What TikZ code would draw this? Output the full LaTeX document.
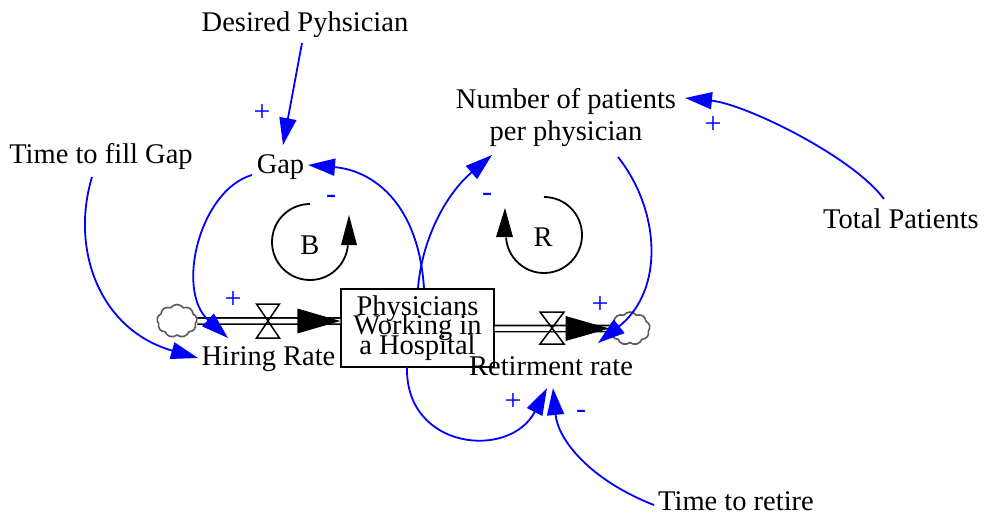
\documentclass[tikz,border=0pt]{standalone}
\usepackage{fontspec}
\setmainfont{Liberation Serif}
\usetikzlibrary{arrows.meta,shapes.symbols}
\newcommand\mytightlines{\lineskiplimit=-50pt\relax}
\begin{document}
\begin{tikzpicture}[x=1pt,y=-1pt,
  lbl/.style={font=\fontsize{28.5}{30}\selectfont, inner sep=2pt, anchor=base},
  pol/.style={font=\fontsize{30}{30}\selectfont, text=blue, inner sep=0pt},
  link/.style={draw=blue, line width=1.8pt, -{Triangle[length=27pt,width=17pt]}},
  pipe/.style={double, double distance=4.5pt, line width=1.6pt},
  valve/.style={draw, line width=1.5pt, line join=miter},
  stock/.style={draw, line width=1.3pt, minimum width=153pt, minimum height=78pt, align=center, inner sep=0pt,
    font=\fontsize{28.5}{19.5}\selectfont\mytightlines},
  cloudy/.style={cloud, cloud puffs=9, cloud puff arc=110, draw=gray!70!black, line width=1.6pt,
    minimum width=40pt, minimum height=33pt, inner sep=0pt, aspect=1.2},
  loopline/.style={line width=1.8pt},
]
\useasboundingbox (0,0) rectangle (986,517);

% variables
\node[lbl] (desired) at (305,31) {Desired Pyhsician};
\node[lbl] (gap) at (280.5,173) {Gap};
\node[lbl] (fill) at (101,163) {Time to fill Gap};
\node[font=\fontsize{28.5}{32}\selectfont, align=center, inner sep=2pt] (npp) at (566,117.5) {Number of patients\\per physician};
\node[lbl] (total) at (901,228) {Total Patients};

% stock and flows
\node[stock] (phys) at (417.5,328) {Physicians\\Working in\\a Hospital};
\node[cloudy] (cL) at (177,321) {};
\node[cloudy] (cR) at (630,328.5) {};

\draw[pipe] (cL.east) -- ([yshift=7pt]phys.west);
\fill ([yshift=7pt]phys.west) -- ++(-43,-12.5) -- ++(0,25) -- cycle;
\draw[valve] (256.5,304) -- (279.5,304) -- (256.5,338) -- (279.5,338) -- cycle;

\draw[pipe] ([yshift=-0.5pt]phys.east) -- (cR.west);
\fill (cR.west) -- ++(-44,-12.5) -- ++(0,25) -- cycle;
\draw[valve] (540,312) -- (564,312) -- (540,344) -- (564,344) -- cycle;

\node[lbl] (hire) at (268.5,365) {Hiring Rate};
\node[lbl] (retire) at (551,375) {Retirment rate};
\node[lbl] (ttr) at (736,510) {Time to retire};

% loops
\draw[loopline] (310,204) arc[start angle=90, end angle=355, radius=38pt];
\fill (341,245) -- (357,245) -- (349,215) -- cycle;
\node[font=\fontsize{28.5}{30}\selectfont] (loopB) at (310,245) {B};

\draw[loopline] (544,197) arc[start angle=90, end angle=-176, radius=38pt];
\fill (496,237) -- (513,237) -- (505,208) -- cycle;
\node[font=\fontsize{28.5}{30}\selectfont] (loopR) at (543,237) {R};

% links
\draw[link] ([shift={(-3,12)}]desired.base) -- ([shift={(2.5,-28)}]gap.base);
\draw[link] ([shift={(-28.5,2)}]gap.base) .. controls (200,190) and (175,290) .. ([shift={(-40.5,-27)}]hire.base);
\draw[link] ([shift={(-9,14)}]fill.base) .. controls (70,250) and (100,330) .. ([shift={(-70.5,-7)}]hire.base);
\draw[link] ([shift={(6.5,-40)}]phys.center) .. controls (418,200) and (370,170) .. ([shift={(27.5,-8)}]gap.base);
\draw[link] ([shift={(0.5,-40)}]phys.center) .. controls (422,240) and (445,195) .. ([shift={(-74,37.5)}]npp.center);
\draw[link] ([shift={(52,39.5)}]npp.center) .. controls (660,210) and (665,290) .. ([shift={(47,-32)}]retire.base);
\draw[link] ([shift={(-17,-29)}]total.base) .. controls (852,156) and (745,104) .. ([shift={(119,-19.5)}]npp.center);
\draw[link] ([shift={(-10.5,39)}]phys.center) .. controls (405,450) and (510,460) .. ([shift={(-4,13)}]retire.base);
\draw[link] ([shift={(-82,-5)}]ttr.base) .. controls (590,480) and (558,440) .. ([shift={(2,13)}]retire.base);

% polarities
\node[pol] (p1) at (262,113) {+};
\node[pol] (p2) at (331,199) {-};
\node[pol] (p3) at (233,300) {+};
\node[pol] (p4) at (487,197) {-};
\node[pol] (p5) at (600,305) {+};
\node[pol] (p6) at (713,125) {+};
\node[pol] (p7) at (513,402) {+};
\node[pol] (p8) at (581,414) {-};
\end{tikzpicture}
\end{document}
